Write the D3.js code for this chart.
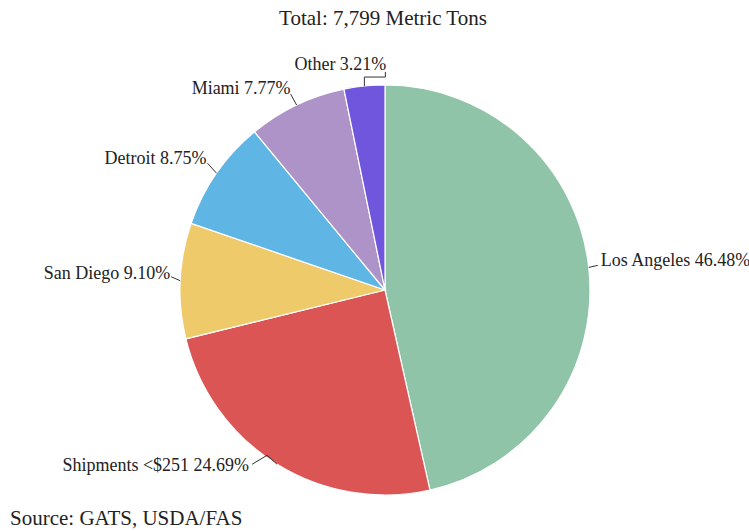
<!DOCTYPE html>
<html><head><meta charset="utf-8">
<script src="https://cdn.jsdelivr.net/npm/d3@7"></script>
<style>body{margin:0;background:#fff}svg{display:block}text{font-family:"Liberation Serif","Times New Roman",serif;fill:#222}</style>
</head><body><svg id="c" width="749" height="531"></svg>
<script>
const categories = ["Los Angeles", "Shipments <$251", "San Diego", "Detroit", "Miami", "Other"];
const values = [46.48, 24.69, 9.10, 8.75, 7.77, 3.21];
const colors = ["#8fc4a8", "#dc5555", "#efca6a", "#5fb6e5", "#ae93c9", "#6f56dd"];
const titleText = "Total: 7,799 Metric Tons";
const sourceText = "Source: GATS, USDA/FAS";

const svg = d3.select("#c");
const cx = 385, cy = 290, R = 205;
const g = svg.append("g").attr("transform", `translate(${cx},${cy})`);
const data = categories.map((c, i) => ({name: c, value: values[i], color: colors[i]}));
const pie = d3.pie().value(d => d.value).sort(null);
const arcs = pie(data);
const arc = d3.arc().innerRadius(0).outerRadius(R);
g.selectAll("path.s").data(arcs).join("path").attr("class", "s")
  .attr("d", arc).attr("fill", d => d.data.color)
  .attr("stroke", "#fff").attr("stroke-width", 1.2);

// labels
const pt = (a, r) => [Math.sin(a) * r, -Math.cos(a) * r];
arcs.forEach((d, i) => {
  const a = (d.startAngle + d.endAngle) / 2;
  const p0 = pt(a, R);
  let p1 = pt(a, R + 12);
  const right = Math.sin(a) > 0;
  let pts = [p0, p1];
  let tx = p1[0] + (right ? 3 : -3), ty = p1[1] - 3, anchor = right ? "start" : "end";
  if (i === 1) { // shipments: zig-zag leader
    const q1 = [p0[0] - 10, p0[1] - 9];
    const q2 = [q1[0] - 15, q1[1] + 9];
    pts = [p0, q1, q2];
    tx = q2[0] - 3; ty = q2[1] + 3;
  }
  if (i === 5) { // other: bracket leader above
    const q1 = [p0[0], p0[1] - 9];
    const q2 = [q1[0] + 21, q1[1]];
    const q3 = [q2[0], q2[1] - 5];
    pts = [p0, q1, q2, q3];
    tx = q3[0] + 1; ty = q3[1] - 6; anchor = "end";
  }
  if (i === 0) { pts = [p0, [p0[0] + 9, p0[1] - 2]]; tx = p0[0] + 12; ty = p0[1] - 6; }
  if (i === 2) { pts = [p0, [p0[0] - 9, p0[1] - 4]]; tx = p0[0] - 10; ty = p0[1] - 6; }
  if (i === 3) { pts = [p0, [p0[0] - 9, p0[1] - 10]]; tx = p0[0] - 10; ty = p0[1] - 13; }
  if (i === 4) { pts = [p0, [p0[0] - 6, p0[1] - 11]]; tx = p0[0] - 6; ty = p0[1] - 15; }
  g.append("polyline").attr("points", pts.map(p => p.join(",")).join(" "))
    .attr("fill", "none").attr("stroke", "#333").attr("stroke-width", 1);
  g.append("text").attr("x", tx).attr("y", ty).attr("text-anchor", anchor)
    .attr("dominant-baseline", "middle").attr("font-size", 18)
    .text(`${d.data.name} ${d.data.value.toFixed(2)}%`);
});

svg.append("text").attr("x", 383).attr("y", 25).attr("text-anchor", "middle")
  .attr("font-size", 21).text(titleText);
svg.append("text").attr("x", 10).attr("y", 525).attr("font-size", 21).text(sourceText);
</script></body></html>
